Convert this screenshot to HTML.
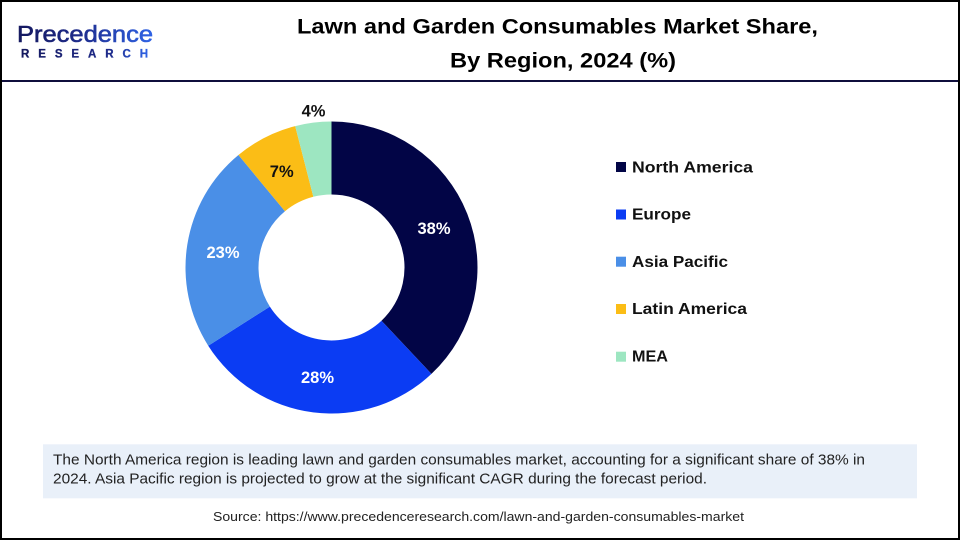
<!DOCTYPE html>
<html>
<head>
<meta charset="utf-8">
<style>
  html,body{margin:0;padding:0;background:#fff;}
  svg{display:block;}
  text{font-family:"Liberation Sans", Arial, sans-serif;}
</style>
</head>
<body>
<svg width="960" height="540" viewBox="0 0 960 540" xmlns="http://www.w3.org/2000/svg">
  <defs>
    <linearGradient id="lg" x1="0" y1="0" x2="1" y2="0">
      <stop offset="0" stop-color="#14185e"/>
      <stop offset="0.45" stop-color="#1d2a8a"/>
      <stop offset="1" stop-color="#2f63e6"/>
    </linearGradient>
    <linearGradient id="lg2" x1="0" y1="0" x2="1" y2="0">
      <stop offset="0" stop-color="#14185e"/>
      <stop offset="0.7" stop-color="#1d2a8a"/>
      <stop offset="1" stop-color="#2f63e6"/>
    </linearGradient>
  </defs>
  <rect x="0" y="0" width="960" height="540" fill="#ffffff"/>

  <!-- Logo -->
  <text x="17" y="42" font-size="23" fill="url(#lg)" stroke="url(#lg)" stroke-width="0.6" textLength="136" lengthAdjust="spacingAndGlyphs">Precedence</text>
  <text x="21" y="57.5" font-size="11.5" font-weight="bold" fill="url(#lg2)" stroke="url(#lg2)" stroke-width="0.3" textLength="127" lengthAdjust="spacing">RESEARCH</text>

  <!-- Title -->
  <text x="297" y="33.5" font-size="21" font-weight="bold" fill="#000" textLength="521" lengthAdjust="spacingAndGlyphs">Lawn and Garden Consumables Market Share,</text>
  <text x="450" y="67.5" font-size="21" font-weight="bold" fill="#000" textLength="226" lengthAdjust="spacingAndGlyphs">By Region, 2024 (%)</text>

  <!-- Header line -->
  <rect x="0" y="80" width="960" height="2" fill="#0f0e3c"/>

  <!-- Donut -->
  <path d="M331.5 121.5 A146 146 0 0 1 431.44 373.93 L381.47 320.72 A73 73 0 0 0 331.5 194.5 Z" fill="#020546"/>
  <path d="M431.44 373.93 A146 146 0 0 1 208.23 345.73 L269.87 306.61 A73 73 0 0 0 381.47 320.72 Z" fill="#0b3cf3"/>
  <path d="M208.23 345.73 A146 146 0 0 1 238.44 155.01 L284.97 211.25 A73 73 0 0 0 269.87 306.61 Z" fill="#4a8fe7"/>
  <path d="M238.44 155.01 A146 146 0 0 1 295.19 126.08 L313.34 196.79 A73 73 0 0 0 284.97 211.25 Z" fill="#fbbd16"/>
  <path d="M295.19 126.08 A146 146 0 0 1 331.5 121.5 L331.5 194.5 A73 73 0 0 0 313.34 196.79 Z" fill="#9de6c1"/>

  <!-- Slice labels -->
  <g font-size="16.5" font-weight="bold" text-anchor="middle">
    <text x="434" y="234" fill="#ffffff">38%</text>
    <text x="317.5" y="383" fill="#ffffff">28%</text>
    <text x="223" y="258" fill="#ffffff">23%</text>
    <text x="281.7" y="177" fill="#111111">7%</text>
    <text x="313.5" y="116.5" fill="#111111">4%</text>
  </g>

  <!-- Legend -->
  <rect x="616" y="162" width="10" height="10" fill="#020546"/>
  <text x="632" y="172.3" font-size="16" font-weight="bold" fill="#111" textLength="121" lengthAdjust="spacingAndGlyphs">North America</text>
  <rect x="616" y="209.5" width="10" height="10" fill="#0b3cf3"/>
  <text x="632" y="219.7" font-size="16" font-weight="bold" fill="#111" textLength="59" lengthAdjust="spacingAndGlyphs">Europe</text>
  <rect x="616" y="256.7" width="10" height="10" fill="#4a8fe7"/>
  <text x="632" y="266.9" font-size="16" font-weight="bold" fill="#111" textLength="96" lengthAdjust="spacingAndGlyphs">Asia Pacific</text>
  <rect x="616" y="304" width="10" height="10" fill="#fbbd16"/>
  <text x="632" y="314.1" font-size="16" font-weight="bold" fill="#111" textLength="115" lengthAdjust="spacingAndGlyphs">Latin America</text>
  <rect x="616" y="351.7" width="10" height="10" fill="#9de6c1"/>
  <text x="632" y="361.7" font-size="16" font-weight="bold" fill="#111" textLength="36" lengthAdjust="spacingAndGlyphs">MEA</text>

  <!-- Note box -->
  <rect x="43" y="444.3" width="874" height="54" fill="#e9f0f9"/>
  <text x="53" y="464.3" font-size="15" fill="#222" textLength="812" lengthAdjust="spacingAndGlyphs">The North America region is leading lawn and garden consumables market, accounting for a significant share of 38% in</text>
  <text x="53" y="483.3" font-size="15" fill="#222" textLength="654" lengthAdjust="spacingAndGlyphs">2024. Asia Pacific region is projected to grow at the significant CAGR during the forecast period.</text>

  <!-- Source -->
  <text x="213" y="521" font-size="13" fill="#222" textLength="531" lengthAdjust="spacingAndGlyphs">Source: https://www.precedenceresearch.com/lawn-and-garden-consumables-market</text>

  <!-- Frame -->
  <rect x="1" y="1" width="958" height="538" fill="none" stroke="#000" stroke-width="2"/>
</svg>
</body>
</html>
